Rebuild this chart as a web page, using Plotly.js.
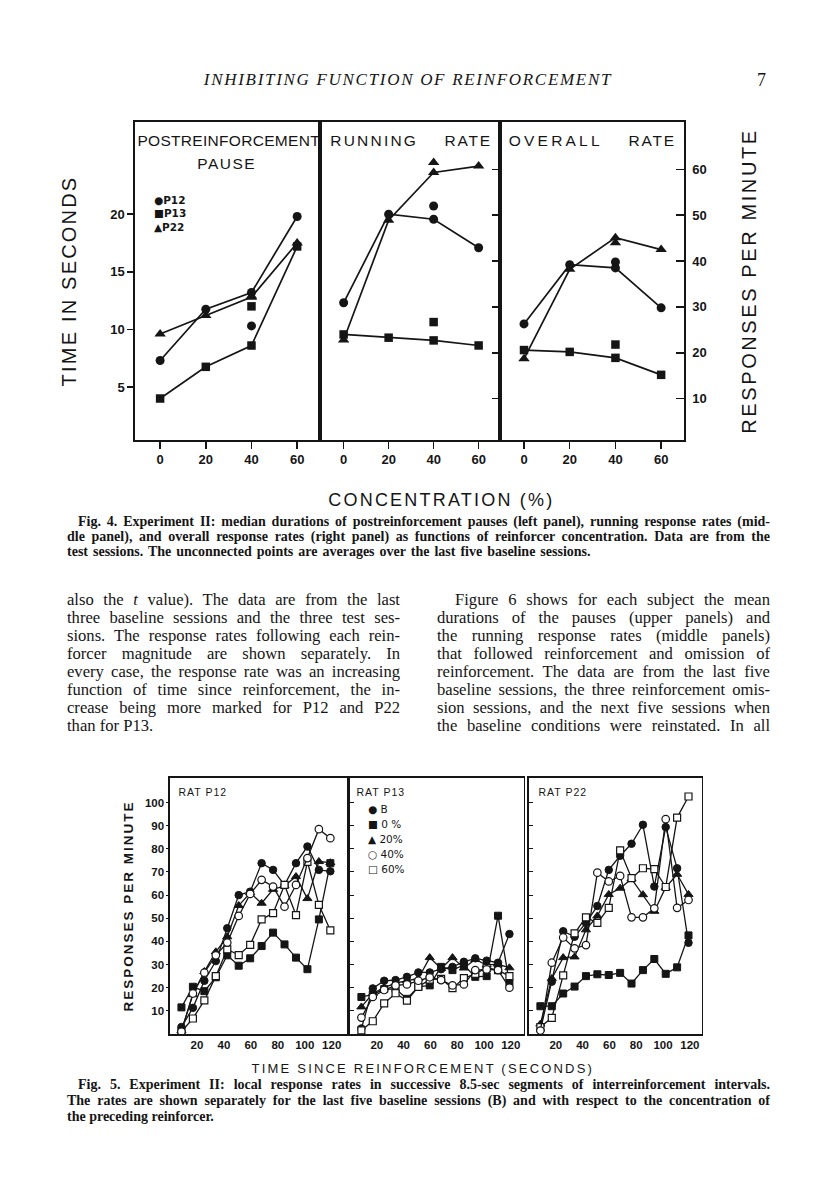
<!DOCTYPE html>
<html><head><meta charset="utf-8">
<script src="https://cdn.plot.ly/plotly-3.0.1.min.js"></script>
<style>
html,body{margin:0;padding:0;background:#fff;}
#page{position:relative;width:816px;height:1200px;overflow:hidden;background:#fff;}
#chart{position:absolute;left:0;top:0;width:816px;height:1200px;}
.t{position:absolute;font-family:"Liberation Serif","DejaVu Serif",serif;color:#151515;white-space:nowrap;}
.body{font-size:16.6px;line-height:18px;}
.cap{font-size:14px;line-height:15px;font-weight:bold;}
</style></head>
<body><div id="page">
<div class="t" style="left:0;top:69px;width:816px;text-align:center;font-size:17px;line-height:22px;font-style:italic;letter-spacing:1.7px;"><span style="position:relative;left:0px">INHIBITING FUNCTION OF REINFORCEMENT</span></div>
<div class="t" style="left:757px;top:69px;font-size:18px;line-height:22px;">7</div>

<div class="t cap j" data-w="692" style="left:78px;top:514px;">Fig. 4. Experiment II: median durations of postreinforcement pauses (left panel), running response rates (mid-</div>
<div class="t cap j" data-w="703" style="left:67px;top:529px;">dle panel), and overall response rates (right panel) as functions of reinforcer concentration. Data are from the</div>
<div class="t cap" style="left:67px;top:544px;word-spacing:1.5px;">test sessions. The unconnected points are averages over the last five baseline sessions.</div>

<div class="t body j" data-w="333" style="left:67px;top:591px;">also the <i>t</i> value). The data are from the last</div>
<div class="t body j" data-w="333" style="left:67px;top:609px;">three baseline sessions and the three test ses-</div>
<div class="t body j" data-w="333" style="left:67px;top:627px;">sions. The response rates following each rein-</div>
<div class="t body j" data-w="333" style="left:67px;top:645px;">forcer magnitude are shown separately. In</div>
<div class="t body j" data-w="333" style="left:67px;top:663px;">every case, the response rate was an increasing</div>
<div class="t body j" data-w="333" style="left:67px;top:681px;">function of time since reinforcement, the in-</div>
<div class="t body j" data-w="333" style="left:67px;top:699px;">crease being more marked for P12 and P22</div>
<div class="t body" style="left:67px;top:717px;">than for P13.</div>

<div class="t body j" data-w="315" style="left:455px;top:591px;">Figure 6 shows for each subject the mean</div>
<div class="t body j" data-w="333" style="left:437px;top:609px;">durations of the pauses (upper panels) and</div>
<div class="t body j" data-w="333" style="left:437px;top:627px;">the running response rates (middle panels)</div>
<div class="t body j" data-w="333" style="left:437px;top:645px;">that followed reinforcement and omission of</div>
<div class="t body j" data-w="333" style="left:437px;top:663px;">reinforcement. The data are from the last five</div>
<div class="t body j" data-w="333" style="left:437px;top:681px;">baseline sessions, the three reinforcement omis-</div>
<div class="t body j" data-w="333" style="left:437px;top:699px;">sion sessions, and the next five sessions when</div>
<div class="t body j" data-w="333" style="left:437px;top:717px;">the baseline conditions were reinstated. In all</div>

<div class="t cap j" data-w="692" style="left:78px;top:1077px;">Fig. 5. Experiment II: local response rates in successive 8.5-sec segments of interreinforcement intervals.</div>
<div class="t cap j" data-w="703" style="left:67px;top:1093px;">The rates are shown separately for the last five baseline sessions (B) and with respect to the concentration of</div>
<div class="t cap" style="left:67px;top:1109px;">the preceding reinforcer.</div>

<div id="chart"></div>
</div>
<script>
// ---------- Fig. 4 data ----------
const conc = [0, 20, 40, 60];
const subjects = ['P12', 'P13', 'P22'];
const pauseP12 = [7.3, 11.75, 13.2, 19.8];
const pauseP13 = [4.0, 6.75, 8.6, 17.2];
const pauseP22 = [9.6, 11.2, 12.8, 17.5];
const runP12 = [30.9, 50.2, 49.1, 42.9];
const runP13 = [24.0, 23.3, 22.7, 21.6];
const runP22 = [22.8, 48.9, 59.3, 60.7];
const overallP12 = [26.3, 39.2, 38.5, 29.8];
const overallP13 = [20.6, 20.2, 18.9, 15.2];
const overallP22 = [18.7, 38.2, 45.1, 42.5];
const baselineConc = 40;
const baselinePause = [10.3, 12.0, 12.9];
const baselineRun = [52.0, 26.7, 61.5];
const baselineOverall = [39.8, 21.8, 44.0];
const pauseTicks = [5, 10, 15, 20];
const rateTicks = [10, 20, 30, 40, 50, 60];

// ---------- Fig. 5 data ----------
const segTime = [8.5, 17, 25.5, 34, 42.5, 51, 59.5, 68, 76.5, 85, 93.5, 102, 110.5, 119];
const conditions = ['B', '0 %', '20%', '40%', '60%'];
const p12B    = [3, 11.3, 23, 31.5, 45.7, 60, 61.5, 73.8, 70.9, 64.4, 73.8, 81, 70.9, 70.3];
const p12C0   = [11.5, 20.4, 18.5, 24.5, 34, 29.5, 32.7, 38, 43.8, 38.7, 33, 28, 49.5, 73.8];
const p12C20  = [1.5, 17, 27, 35.5, 42, 55.5, 61, 56.5, 62.5, 64, 68, 58.5, 74.5, 74];
const p12C40  = [1, 17.5, 26.5, 34, 39.5, 51, 60.5, 66.6, 63.7, 55, 64.4, 76, 88.5, 84.6];
const p12C60  = [1, 6.7, 14.5, 25, 36.6, 34.1, 38.5, 49.5, 52.2, 64.4, 51.4, 74.4, 55.8, 44.8];
const p13B    = [2.4, 19.7, 23, 23.3, 24.7, 26.6, 26.6, 28, 29, 31.2, 32.7, 31.7, 30.8, 43.2];
const p13C0   = [16, 17, 19.4, 19.5, 15.2, 20.4, 21, 29, 27.6, 29.8, 24.7, 25, 51.1, 22];
const p13C20  = [11.7, 17.5, 20, 22, 23, 24, 33, 28.3, 33, 28.5, 32.2, 29.8, 30.2, 28.6];
const p13C40  = [7.1, 16, 19, 21, 21.4, 23, 24.5, 23.3, 21, 21.4, 27.6, 27.9, 27.6, 20];
const p13C60  = [1.6, 5.5, 13.2, 17.6, 14.4, 20.4, 23.5, 23.8, 19.8, 24.1, 26, 28.6, 27.6, 25];
const p22B    = [1.6, 22.6, 44.4, 42, 48, 55.3, 70.9, 77, 82.2, 90.4, 63.7, 89.4, 71.6, 39.4];
const p22C0   = [12, 12, 17.5, 20.5, 25, 25.8, 25.5, 26.4, 21.8, 27.6, 32.4, 26, 28.8, 42.6];
const p22C20  = [4.3, 24, 33, 33.3, 45, 51, 60.3, 63, 67, 60.2, 53, 63.3, 69, 60.3];
const p22C40  = [1.5, 30.8, 41.7, 37, 38.4, 69.7, 65.9, 68.3, 50.4, 50.4, 54.3, 92.8, 54.5, 57.9];
const p22C60  = [3, 7, 25.3, 43.5, 50.4, 48, 54.5, 79.3, 67.3, 71.6, 71.2, 63.5, 93.5, 102.6];
const timeTicks = [20, 40, 60, 80, 100, 120];
const rate5Ticks = [10, 20, 30, 40, 50, 60, 70, 80, 90, 100];

// ---------- helpers ----------
const W = 816, H = 1200;
const px = v => v / W;
const py = v => 1 - v / H;
const INK = '#151515';
const SANS = 'Liberation Sans, Arial, sans-serif';

const subjSym = {P12: 'circle', P13: 'square', P22: 'triangle-up'};
const subjSize = {P12: 9, P13: 8.5, P22: 10};
function fig4Line(xs, ys, subj, xa, ya) {
  return {x: xs, y: ys, xaxis: xa, yaxis: ya, mode: 'lines+markers', cliponaxis: false,
    line: {color: INK, width: 1.7},
    marker: {symbol: subjSym[subj], size: subjSize[subj], color: INK}, hoverinfo: 'skip', name: subj};
}
function fig4Base(vals, xa, ya) {
  return subjects.map((s, i) => ({x: [baselineConc], y: [vals[i]], xaxis: xa, yaxis: ya, mode: 'markers',
    cliponaxis: false, marker: {symbol: subjSym[s], size: subjSize[s], color: INK}, hoverinfo: 'skip', name: s + ' baseline'}));
}
const condStyle = {
  'B':   {symbol: 'circle', size: 7.5, color: INK, line: {color: INK, width: 1}},
  '0 %': {symbol: 'square', size: 7, color: INK, line: {color: INK, width: 1}},
  '20%': {symbol: 'triangle-up', size: 8, color: INK, line: {color: INK, width: 1}},
  '40%': {symbol: 'circle', size: 7.5, color: '#fff', line: {color: INK, width: 1.2}},
  '60%': {symbol: 'square', size: 7, color: '#fff', line: {color: INK, width: 1.2}}
};
function fig5Line(ys, cond, xa, ya) {
  return {x: segTime, y: ys, xaxis: xa, yaxis: ya, mode: 'lines+markers', cliponaxis: false,
    line: {color: INK, width: 1.3}, marker: condStyle[cond], hoverinfo: 'skip', name: cond};
}

const traces = [
  fig4Line(conc, pauseP12, 'P12', 'x', 'y'),
  fig4Line(conc, pauseP13, 'P13', 'x', 'y'),
  fig4Line(conc, pauseP22, 'P22', 'x', 'y'),
  ...fig4Base(baselinePause, 'x', 'y'),
  fig4Line(conc, runP12, 'P12', 'x2', 'y2'),
  fig4Line(conc, runP13, 'P13', 'x2', 'y2'),
  fig4Line(conc, runP22, 'P22', 'x2', 'y2'),
  ...fig4Base(baselineRun, 'x2', 'y2'),
  fig4Line(conc, overallP12, 'P12', 'x3', 'y3'),
  fig4Line(conc, overallP13, 'P13', 'x3', 'y3'),
  fig4Line(conc, overallP22, 'P22', 'x3', 'y3'),
  ...fig4Base(baselineOverall, 'x3', 'y3'),
  fig5Line(p12C0, '0 %', 'x4', 'y4'), fig5Line(p12C20, '20%', 'x4', 'y4'), fig5Line(p12B, 'B', 'x4', 'y4'),
  fig5Line(p12C60, '60%', 'x4', 'y4'), fig5Line(p12C40, '40%', 'x4', 'y4'),
  fig5Line(p13C0, '0 %', 'x5', 'y5'), fig5Line(p13C20, '20%', 'x5', 'y5'), fig5Line(p13B, 'B', 'x5', 'y5'),
  fig5Line(p13C60, '60%', 'x5', 'y5'), fig5Line(p13C40, '40%', 'x5', 'y5'),
  fig5Line(p22C0, '0 %', 'x6', 'y6'), fig5Line(p22C20, '20%', 'x6', 'y6'), fig5Line(p22B, 'B', 'x6', 'y6'),
  fig5Line(p22C60, '60%', 'x6', 'y6'), fig5Line(p22C40, '40%', 'x6', 'y6')
];

const tickFont4 = {family: SANS, size: 13, color: INK, weight: 'bold'};
const tickFont5 = {family: SANS, size: 11.5, color: INK, weight: 'bold'};
const boxAxis = {showline: true, mirror: true, linecolor: INK, linewidth: 1.6, showgrid: false, zeroline: false, fixedrange: true};

const f4y = [py(440), py(122)];
const f5y = [py(1034), py(778)];
const layout = {
  width: W, height: H, margin: {l: 0, r: 0, t: 0, b: 0},
  paper_bgcolor: 'rgba(0,0,0,0)', plot_bgcolor: 'rgba(0,0,0,0)', showlegend: false,
  xaxis:  Object.assign({}, boxAxis, {domain: [px(135), px(320)], range: [-11, 70], anchor: 'y', tickvals: conc,
            ticks: 'outside', ticklen: 7, tickwidth: 1.5, tickcolor: INK, tickfont: tickFont4}),
  yaxis:  Object.assign({}, boxAxis, {domain: f4y, range: [0.4, 28], anchor: 'x', tickvals: pauseTicks,
            ticks: 'outside', ticklen: 6, tickwidth: 1.5, tickcolor: INK, tickfont: tickFont4,
            title: {text: 'TIME IN SECONDS', font: {family: SANS, size: 20, color: INK}, standoff: 28}}),
  xaxis2: Object.assign({}, boxAxis, {domain: [px(320), px(500)], range: [-10.5, 69.5], anchor: 'y2', tickvals: conc,
            ticks: 'outside', ticklen: 7, tickwidth: 1.5, tickcolor: INK, tickfont: tickFont4}),
  yaxis2: Object.assign({}, boxAxis, {domain: f4y, range: [1.0, 70.3], anchor: 'x2', side: 'right', tickvals: rateTicks,
            ticks: 'inside', ticklen: 8, tickwidth: 1.5, tickcolor: INK, showticklabels: false}),
  xaxis3: Object.assign({}, boxAxis, {domain: [px(500), px(684)], range: [-10.5, 70], anchor: 'y3', tickvals: conc,
            ticks: 'outside', ticklen: 7, tickwidth: 1.5, tickcolor: INK, tickfont: tickFont4}),
  yaxis3: Object.assign({}, boxAxis, {domain: f4y, range: [1.0, 70.3], anchor: 'x3', side: 'right', tickvals: rateTicks,
            ticks: 'inside', ticklen: 8, tickwidth: 1.5, tickcolor: INK, tickfont: tickFont4, ticklabelstandoff: 4,
            title: {text: 'RESPONSES PER MINUTE', font: {family: SANS, size: 20, color: INK}, standoff: 36}}),
  xaxis4: Object.assign({}, boxAxis, {domain: [px(170), px(346.5)], range: [0, 131], anchor: 'y4', tickvals: timeTicks,
            ticks: '', tickfont: tickFont5}),
  yaxis4: Object.assign({}, boxAxis, {domain: f5y, range: [0, 110.6], anchor: 'x4', tickvals: rate5Ticks,
            ticks: 'outside', ticklen: 2, tickcolor: INK, tickfont: tickFont5,
            title: {text: 'RESPONSES PER MINUTE', font: {family: SANS, size: 13.5, color: INK, weight: 'bold'}, standoff: 8}}),
  xaxis5: Object.assign({}, boxAxis, {domain: [px(350), px(523.5)], range: [0, 129.5], anchor: 'y5', tickvals: timeTicks,
            ticks: '', tickfont: tickFont5}),
  yaxis5: Object.assign({}, boxAxis, {domain: f5y, range: [0, 110.6], anchor: 'x5', tickvals: rate5Ticks,
            ticks: 'inside', ticklen: 4, tickcolor: INK, showticklabels: false}),
  xaxis6: Object.assign({}, boxAxis, {domain: [px(529), px(701.5)], range: [0, 128.7], anchor: 'y6', tickvals: timeTicks,
            ticks: '', tickfont: tickFont5}),
  yaxis6: Object.assign({}, boxAxis, {domain: f5y, range: [0, 110.6], anchor: 'x6', tickvals: rate5Ticks,
            ticks: 'inside', ticklen: 4, tickcolor: INK, showticklabels: false}),
  shapes: [
    {type: 'line', xref: 'paper', yref: 'paper', x0: px(320), x1: px(320), y0: py(440), y1: py(122),
     line: {color: INK, width: 3.5}}
  ],
  annotations: []
};

function ann(text, x, y, opts) {
  return Object.assign({text: text, xref: 'paper', yref: 'paper', x: px(x), y: py(y), showarrow: false,
    xanchor: 'center', yanchor: 'middle', font: {family: SANS, size: 15.5, color: INK}}, opts || {});
}
const legFont4 = {family: 'DejaVu Sans, sans-serif', size: 10.5, color: INK, weight: 'bold'};
const legFont5 = {family: 'DejaVu Sans, sans-serif', size: 10.5, color: INK};
layout.annotations.push(
  ann('POSTREINFORCEMENT', 229, 141),
  ann('PAUSE', 226, 163),
  ann('RUNNING', 374, 141),
  ann('RATE', 468, 141),
  ann('OVERALL', 556, 141),
  ann('RATE', 652, 141),
  ann('●P12', 152, 200, {xanchor: 'left', font: legFont4}),
  ann('■P13', 152, 213, {xanchor: 'left', font: legFont4}),
  ann('▲P22', 152, 227, {xanchor: 'left', font: legFont4}),
  ann('CONCENTRATION (%)', 442, 500, {font: {family: SANS, size: 18, color: INK}}),
  ann('RAT P12', 180, 792, {xanchor: 'left', font: {family: SANS, size: 10.5, color: INK}}),
  ann('RAT P13', 358, 792, {xanchor: 'left', font: {family: SANS, size: 10.5, color: INK}}),
  ann('RAT P22', 540, 792, {xanchor: 'left', font: {family: SANS, size: 10.5, color: INK}}),
  ann('● B', 366, 809, {xanchor: 'left', font: legFont5}),
  ann('■ 0 %', 366, 824, {xanchor: 'left', font: legFont5}),
  ann('▲ 20%', 366, 839, {xanchor: 'left', font: legFont5}),
  ann('○ 40%', 366, 854, {xanchor: 'left', font: legFont5}),
  ann('□ 60%', 366, 869, {xanchor: 'left', font: legFont5}),
  ann('TIME SINCE REINFORCEMENT (SECONDS)', 423, 1068, {font: {family: SANS, size: 13, color: INK}})
);

const spacing = [
  ['POSTREINFORCEMENT', 0.3], ['PAUSE', 1.5], ['RUNNING', 2.2], ['RATE', 1.8], ['OVERALL', 3.2],
  ['CONCENTRATION (%)', 2.2], ['RAT P12', 1], ['RAT P13', 1], ['RAT P22', 1],
  ['TIME SINCE REINFORCEMENT (SECONDS)', 2.2], ['TIME IN SECONDS', 2.2]
];
function applySpacing(gd) {
  gd.querySelectorAll('text').forEach(t => {
    const txt = t.textContent;
    for (const [s, v] of spacing) if (txt === s) t.style.letterSpacing = v + 'px';
    if (txt === 'RESPONSES PER MINUTE') {
      const fs = parseFloat(t.style.fontSize || '0');
      t.style.letterSpacing = (fs > 16 ? 2.6 : 2) + 'px';
    }
  });
}

Plotly.newPlot('chart', traces, layout, {staticPlot: true}).then(applySpacing);

// justify text lines to exact widths
document.querySelectorAll('.j').forEach(el => {
  const target = parseFloat(el.dataset.w);
  el.style.display = 'inline-block';
  const natural = el.getBoundingClientRect().width;
  const spaces = (el.textContent.match(/ /g) || []).length;
  if (spaces > 0) el.style.wordSpacing = ((target - natural) / spaces) + 'px';
});
</script>
</body></html>
